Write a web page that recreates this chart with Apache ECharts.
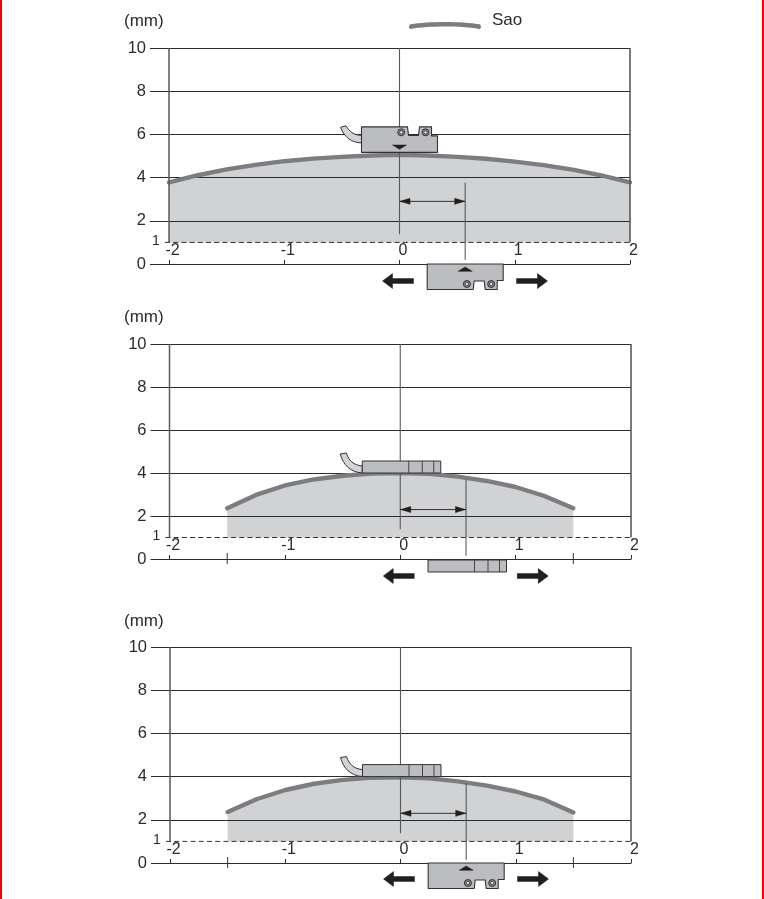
<!DOCTYPE html>
<html><head><meta charset="utf-8">
<style>html,body{margin:0;padding:0;background:#fff}#c{width:764px;height:899px}
.edge{position:absolute;top:0;width:2px;height:899px;background:#ff0000}</style>
<script src="https://cdn.jsdelivr.net/npm/echarts@6/dist/echarts.min.js"></script>
</head><body><div id="c"></div><div class="edge" style="left:0"></div><div class="edge" style="left:762px"></div>
<script>
const yTicks = [0, 2, 4, 6, 8, 10];
const xTicks = [-2, -1, 0, 1, 2];
const thresholdMm = 1;
const offsetMark = 0.57;
const curveTop = [[-2, 3.78], [-1.75, 4.11], [-1.5, 4.38], [-1.25, 4.59], [-1, 4.76], [-0.75, 4.88], [-0.5, 4.96], [-0.25, 5.02], [0, 5.05], [0.25, 5.02], [0.5, 4.96], [0.75, 4.87], [1, 4.74], [1.25, 4.58], [1.5, 4.37], [1.75, 4.1], [2, 3.78]];
const curveMiddle = [[-1.5, 2.36], [-1.25, 2.98], [-1, 3.42], [-0.75, 3.7], [-0.5, 3.87], [-0.25, 3.97], [0, 4.0], [0.25, 3.96], [0.5, 3.83], [0.75, 3.63], [1, 3.35], [1.25, 2.93], [1.5, 2.36]];
const curveBottom = [[-1.5, 2.36], [-1.25, 2.95], [-1, 3.38], [-0.75, 3.67], [-0.5, 3.85], [-0.25, 3.95], [0, 3.97], [0.25, 3.92], [0.5, 3.78], [0.75, 3.58], [1, 3.31], [1.25, 2.93], [1.5, 2.34]];
const extraTicksMiddle = [-1.5, 1.5];
const extraTicksBottom = [-1.5, 1.5];
const unitLabel = '(mm)';

const FONT = 'Liberation Sans';
const INK = '#2b2b2b', MID = '#58595b', BODY = '#bcbdc0', AREA = '#d1d2d4', CURVE = '#7c7d80';

const panels = [
  {box: {left: 169, width: 461, top: 48, height: 216}, curve: curveTop, extra: [], style: 'profile', bottomStyle: 'profile', arrowY: 2.9, lineTop: 3.76, lineBottom: 0.2, arrowDy: 17, face: 5.17, titleTop: 13},
  {box: {left: 169.5, width: 461.5, top: 344, height: 215}, curve: curveMiddle, extra: extraTicksMiddle, style: 'side', bottomStyle: 'side', arrowY: 2.3, lineTop: 3.7, lineBottom: 0.15, arrowDy: 17, face: 4, titleTop: 309},
  {box: {left: 170, width: 461, top: 647, height: 216}, curve: curveBottom, extra: extraTicksBottom, style: 'side', bottomStyle: 'profile', arrowY: 2.3, lineTop: 3.7, lineBottom: 0.15, arrowDy: 16, face: 4, titleTop: 613}
];

function line(x1, y1, x2, y2, stroke, width, dash) {
  return {type: 'line', shape: {x1, y1, x2, y2}, style: {stroke, lineWidth: width, lineDash: dash || null, fill: null}};
}
function poly(points, fill) {
  return {type: 'polygon', shape: {points}, style: {fill, stroke: fill, lineWidth: 0.5}};
}
function ring(cx, cy) {
  return [
    {type: 'circle', shape: {cx, cy, r: 3.5}, style: {fill: '#8a8b8d', stroke: '#333', lineWidth: 1}},
    {type: 'circle', shape: {cx, cy, r: 1.7}, style: {fill: '#e6e6e6', stroke: '#333', lineWidth: 0.8}}
  ];
}
function profileSensor(ax, ay, dir, withCable) {
  const Y = d => ay + dir * d;
  const pts = [[-38, 0], [38, 0], [38, 16.5], [32, 16.5], [32, 25.5], [20, 25.5], [19, 17], [9, 17], [8, 25.5], [-38, 25.5]]
    .map(p => [ax + p[0], Y(p[1])]);
  const kids = [];
  if (withCable) {
    kids.push({type: 'path', shape: {pathData: `M ${ax-38} ${Y(9.5)} C ${ax-48} ${Y(9.5)} ${ax-55} ${Y(15)} ${ax-59} ${Y(25)} L ${ax-53.5} ${Y(26.5)} C ${ax-50} ${Y(21)} ${ax-46} ${Y(17)} ${ax-38} ${Y(17)} Z`},
      style: {fill: '#d2d3d5', stroke: '#333', lineWidth: 1}});
  }
  kids.push({type: 'polygon', shape: {points: pts}, style: {fill: BODY, stroke: '#333', lineWidth: 1.1, lineJoin: 'round'}});
  kids.push(...ring(ax + 1.7, Y(20)), ...ring(ax + 26, Y(20)));
  kids.push(poly([[ax - 7, Y(7.3)], [ax + 7, Y(7.3)], [ax, Y(3)]], '#1f1f1f'));
  return kids;
}
function sideSensor(ax, top, bottom, withCable) {
  const kids = [];
  if (withCable) {
    const y = bottom;
    kids.push({type: 'path', shape: {pathData: `M ${ax-38} ${y} C ${ax-50} ${y-1} ${ax-57} ${y-8} ${ax-60} ${y-19} L ${ax-54} ${y-20} C ${ax-51} ${y-12} ${ax-47} ${y-8} ${ax-38} ${y-7} Z`},
      style: {fill: '#d2d3d5', stroke: '#333', lineWidth: 1}});
  }
  kids.push({type: 'rect', shape: {x: ax - 38, y: top, width: 78.5, height: bottom - top}, style: {fill: BODY, stroke: '#333', lineWidth: 1}});
  [8.5, 22, 33.5].forEach(d => kids.push(line(ax + d, top, ax + d, bottom, '#444', 1)));
  return kids;
}
function bigArrow(xTip, y, dir) {
  const s = 31, h = 10, t = 2.4, w = 7.5;
  return poly([[xTip, y], [xTip + dir * h, y - w], [xTip + dir * h, y - t], [xTip + dir * s, y - t], [xTip + dir * s, y + t], [xTip + dir * h, y + t], [xTip + dir * h, y + w]], '#1f1f1f');
}
function smallHead(x, y, dir) {
  return poly([[x, y], [x + dir * 10, y - 3], [x + dir * 10, y + 3]], '#1f1f1f');
}
function renderPanel(p) {
  return function (params, api) {
    const c = (x, y) => api.coord([x, y]);
    const kids = [];
    const [x0] = c(0, 0), [xm] = c(offsetMark, 0), [xl, y0] = c(-2, 0), [xr, y10] = c(2, 10);
    const y1 = c(0, thresholdMm)[1];
    kids.push(line(xl, y10, xl, y1, MID, 1.5), line(xr, y10, xr, y1, MID, 1.6));
    kids.push(line(xl - 4, y1, xr, y1, '#333', 1, [5, 3.2]));
    kids.push({type: 'text', style: {x: xl - 17, y: y1 - 1, text: String(thresholdMm), font: '14px ' + FONT, fill: INK, align: 'left', verticalAlign: 'middle'}});
    p.extra.forEach(v => { const [tx] = c(v, 0); kids.push(line(tx, y0 - 6, tx, y0 + 5, '#333', 1)); });
    kids.push(line(x0, y10, x0, c(0, 1.38)[1], MID, 1.1));
    kids.push(line(xm, c(0, p.lineTop)[1], xm, c(0, p.lineBottom)[1], MID, 1.1));
    const ay = c(0, p.arrowY)[1];
    kids.push(line(x0, ay, xm, ay, '#222', 0.9), smallHead(x0 + 0.5, ay, 1), smallHead(xm - 0.5, ay, -1));
    const faceY = c(0, p.face)[1];
    if (p.style === 'profile') kids.push(...profileSensor(x0, faceY, -1, true));
    else kids.push(...sideSensor(x0, faceY - 12, faceY, true));
    if (p.bottomStyle === 'profile') kids.push(...profileSensor(xm, y0, 1, false));
    else kids.push(...sideSensor(xm, y0 + 1, y0 + 13, false));
    kids.push(bigArrow(x0 - 17, y0 + p.arrowDy, 1));
    kids.push(bigArrow(x0 + 148, y0 + p.arrowDy, -1));
    return {type: 'group', children: kids};
  };
}

const legendRibbon = 'path://M2 3 C 20 0 52 0 70 3 C 72 3.5 72 8 69.5 7.5 C 52 4.5 20 4.5 2.5 7.5 C 0 8 0 3.5 2 3 Z';
const option = {
  animation: false, backgroundColor: '#fff',
  textStyle: {fontFamily: FONT},
  title: panels.map(p => ({text: unitLabel, left: 124, top: p.titleTop, padding: 0, textStyle: {fontFamily: FONT, fontSize: 17, fontWeight: 'normal', color: INK}})),
  legend: {data: ['Sao'], left: 409, top: 12, padding: 0, itemWidth: 72, itemHeight: 8, icon: legendRibbon,
    formatter: '{a|{name}}',
    textStyle: {fontFamily: FONT, fontSize: 17, color: INK, rich: {a: {fontFamily: FONT, fontSize: 17, color: INK, padding: [0, 0, 10, 6]}}}},
  grid: [], xAxis: [], yAxis: [], series: []
};
panels.forEach((p, i) => {
  option.grid.push(p.box);
  option.xAxis.push({gridIndex: i, type: 'value', min: xTicks[0], max: xTicks[xTicks.length - 1], interval: 1, z: 2,
    axisLine: {show: true, onZero: false, lineStyle: {color: INK, width: 1}},
    axisTick: {show: true, inside: true, length: 4, lineStyle: {color: INK, width: 1}},
    splitLine: {show: false},
    axisLabel: {inside: true, margin: 5, fontSize: 16, fontFamily: FONT, color: INK, padding: [0, 0, 0, 7], showMinLabel: true, showMaxLabel: true}});
  option.yAxis.push({gridIndex: i, type: 'value', min: yTicks[0], max: yTicks[yTicks.length - 1], interval: 2, z: 2,
    axisLine: {show: true, onZero: false, lineStyle: {color: 'rgba(0,0,0,0)', width: 1}},
    axisTick: {show: true, length: 19, lineStyle: {color: INK, width: 1}},
    splitLine: {show: true, lineStyle: {color: INK, width: 1}},
    axisLabel: {margin: 23, fontSize: 16.5, fontFamily: FONT, color: INK}});
  option.series.push({name: 'Sao area ' + (i + 1), type: 'line', xAxisIndex: i, yAxisIndex: i, z: 1, data: p.curve, smooth: false, symbol: 'none',
    lineStyle: {width: 0}, areaStyle: {origin: thresholdMm, color: AREA, opacity: 1}, silent: true});
  option.series.push({name: 'Sao', type: 'line', xAxisIndex: i, yAxisIndex: i, z: 3, data: p.curve, smooth: false, symbol: 'none',
    itemStyle: {color: CURVE}, lineStyle: {width: 4.4, color: CURVE, cap: 'round', join: 'round'}});
  option.series.push({name: 'Annotations ' + (i + 1), type: 'custom', xAxisIndex: i, yAxisIndex: i, z: 4, clip: false, silent: true,
    data: [[0, 0]], renderItem: renderPanel(p)});
});
const chart = echarts.init(document.getElementById('c'), null, {renderer: 'canvas', width: 764, height: 899});
chart.setOption(option);
</script></body></html>
